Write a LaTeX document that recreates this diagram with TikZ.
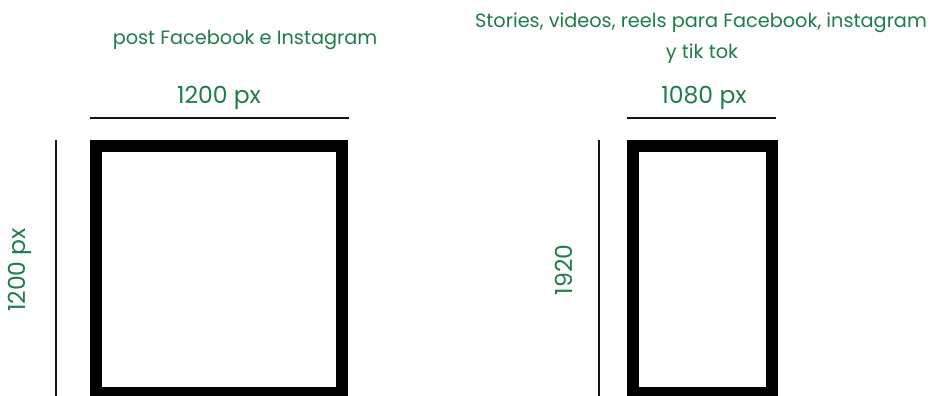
\documentclass[tikz,border=0pt]{standalone}
\usepackage{fontspec}
\setmainfont{Poppins}
\usetikzlibrary{positioning}
\definecolor{TxtGreen}{RGB}{30,125,72}
\definecolor{RuleCol}{RGB}{20,20,20}
\tikzset{
  fmtitle/.style={font=\fontsize{19.3}{31}\selectfont, text=TxtGreen, inner sep=0pt, align=center},
  fmdim/.style={font=\fontsize{23.5}{24}\selectfont, text=TxtGreen, inner sep=0pt},
  fmrule/.style={line width=1.6pt, draw=RuleCol},
  fmframe/.style={line width=12pt, draw=black}
}
\begin{document}
\begin{tikzpicture}[x=1pt,y=-1pt]
  \clip (0,0) rectangle (932,396);
  \fill[white] (0,0) rectangle (932,396);
  % post (square)
  \node[fmtitle,anchor=base] (sqtitle) at (245,45) {post Facebook e Instagram};
  \node[fmdim,anchor=base] (sqw) at (219,103) {1200 px};
  \coordinate (sqwa) at (90,118);
  \coordinate (sqwb) at (349,118);
  \draw[fmrule] (sqwa) -- (sqwb);
  \coordinate (sqha) at (56,140);
  \coordinate (sqhb) at (56,400);
  \draw[fmrule] (sqha) -- (sqhb);
  \node[fmdim,rotate=90] (sqh) at (20,270) {1200 px};
  \draw[fmframe] (96,146) rectangle (342,393);
  % stories (vertical)
  \node[fmtitle,anchor=base] (sttitle) at (701,28) {Stories, videos, reels para Facebook, instagram};
  \node[fmtitle,anchor=base] (sttitleb) at (702,59) {y tik tok};
  \node[fmdim,anchor=base] (stw) at (704,103) {1080 px};
  \coordinate (stwa) at (627,118);
  \coordinate (stwb) at (776,118);
  \draw[fmrule] (stwa) -- (stwb);
  \coordinate (stha) at (599,140);
  \coordinate (sthb) at (599,400);
  \draw[fmrule] (stha) -- (sthb);
  \node[fmdim,rotate=90] (sth) at (564,270) {1920};
  \draw[fmframe] (632.5,146) rectangle (771.5,393);
\end{tikzpicture}
\end{document}
